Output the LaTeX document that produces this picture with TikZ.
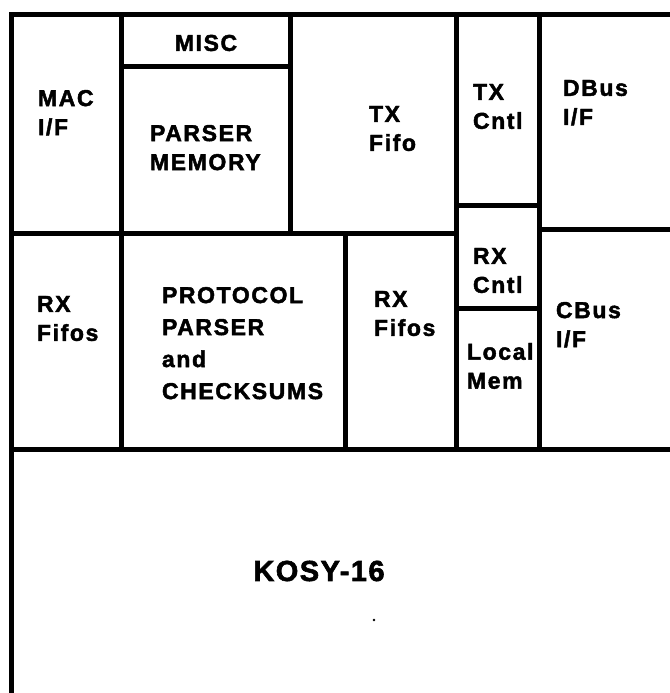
\documentclass[tikz,border=0pt]{standalone}
\usepackage{fontspec}
\setmainfont{Liberation Sans}
\begin{document}
\begin{tikzpicture}[x=1pt,y=-1pt,
  wall/.style={line width=5pt,line cap=rect},
  lbl/.style={inner sep=0pt,outer sep=0pt,anchor=north west,align=left,
    font=\bfseries\fontsize{23}{29}\selectfont\addfontfeature{LetterSpace=7,FakeBold=2}},
  wide/.style={font=\bfseries\fontsize{23}{32}\selectfont\addfontfeature{LetterSpace=7,FakeBold=2}},
  biglbl/.style={inner sep=0pt,anchor=center,
    font=\bfseries\fontsize{29}{32}\selectfont\addfontfeature{LetterSpace=5,FakeBold=2}}]
\useasboundingbox (0,0) rectangle (669,693);
% frame
\draw[wall] (11,693) -- (11,15) -- (669,15);
\draw[wall] (11,449) -- (669,449);
% top row
\draw[wall] (121,15) -- (121,449);
\draw[wall] (121,67) -- (290,67);
\draw[wall] (290,15) -- (290,233);
\draw[wall] (11,233) -- (456,233);
\draw[wall] (456,15) -- (456,449);
\draw[wall] (539,15) -- (539,449);
\draw[wall] (539,229) -- (669,229);
\draw[wall] (456,205) -- (539,205);
\draw[wall] (456,308) -- (539,308);
\draw[wall] (345,233) -- (345,449);
% labels
\node[lbl] (mac) at (38,90) {MAC\\I/F};
\node[lbl,anchor=center] (misc) at (206,43) {MISC};
\node[lbl] (pmem) at (150,125) {PARSER\\MEMORY};
\node[lbl] (txf) at (369,106) {TX\\Fifo};
\node[lbl] (txc) at (473,84) {TX\\Cntl};
\node[lbl] (dbus) at (563,80) {DBus\\I/F};
\node[lbl] (rxf1) at (37,296) {RX\\Fifos};
\node[lbl,wide] (pp) at (162,287) {PROTOCOL\\PARSER\\and\\CHECKSUMS};
\node[lbl] (rxf2) at (374,291) {RX\\Fifos};
\node[lbl] (rxc) at (473,248) {RX\\Cntl};
\node[lbl] (lmem) at (467,343) {Local\\Mem};
\node[lbl] (cbus) at (556,302) {CBus\\I/F};
\node[biglbl] (kosy) at (319,571) {KOSY-16};
\fill (374,620) circle (1.3);
\end{tikzpicture}
\end{document}
